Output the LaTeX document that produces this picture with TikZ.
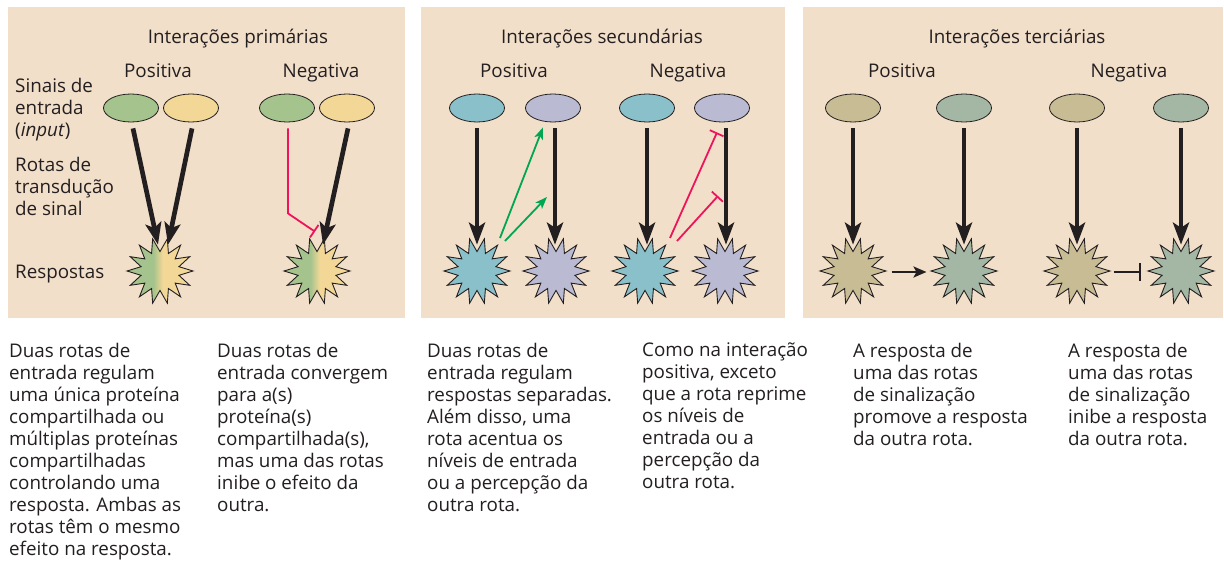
\documentclass[tikz,border=0pt]{standalone}
\usepackage{fontspec}
\setmainfont{Open Sans}
\usetikzlibrary{shapes.geometric,arrows.meta,positioning}

\definecolor{fundo}{RGB}{242,223,201}
\definecolor{texto}{RGB}{35,31,32}
\definecolor{verde}{RGB}{165,195,140}
\definecolor{amarelo}{RGB}{242,215,150}
\definecolor{ciano}{RGB}{138,192,202}
\definecolor{lilas}{RGB}{186,186,210}
\definecolor{caqui}{RGB}{200,188,148}
\definecolor{salvia}{RGB}{164,182,164}
\definecolor{promove}{RGB}{0,166,81}
\definecolor{inibe}{RGB}{237,20,91}

\pgfdeclarehorizontalshading{verdeamarelo}{100bp}{color(0bp)=(verde); color(45bp)=(verde); color(52bp)=(amarelo); color(100bp)=(amarelo)}

\tikzset{
  sinal/.style={ellipse, draw=texto, line width=0.8pt, minimum width=55pt, minimum height=28pt, inner sep=0pt},
  resposta/.style={star, star points=14, star point ratio=1.7, shape border rotate=12.857, draw=texto, line width=0.9pt, minimum size=66pt, inner sep=0pt},
  rota/.style={draw=texto, line width=4.7pt, -{Stealth[length=22pt, width=16pt, inset=5pt]}},
  acentua/.style={draw=promove, line width=1.8pt, -{Stealth[length=12pt, width=9pt, inset=3pt]}},
  reprime/.style={draw=inibe, line width=1.8pt, -{Bar[width=15pt, line width=1.8pt]}},
  liga/.style={draw=texto, line width=2.4pt},
  rotulo/.style={text=texto, font=\fontsize{18.8}{22}\selectfont, inner sep=0pt},
  legenda/.style={rotulo, align=left, anchor=north west, execute at begin node=\strut}
}

\begin{document}
\begin{tikzpicture}[x=1pt, y=-1pt]
  \useasboundingbox[fill=white] (0,0) rectangle (1224,562);

  % Painéis
  \fill[fundo] (8,7) rectangle (405,318);
  \fill[fundo] (421,7) rectangle (785,318);
  \fill[fundo] (803,7) rectangle (1223,318);

  % Títulos
  \node[rotulo, anchor=base] at (238,43) {Interações primárias};
  \node[rotulo, anchor=base] at (602,43) {Interações secundárias};
  \node[rotulo, anchor=base] at (1017,43) {Interações terciárias};
  \foreach \x/\t in {158/Positiva, 321/Negativa, 514/Positiva, 688/Negativa, 902/Positiva, 1129/Negativa}
    \node[rotulo, anchor=base] at (\x,77) {\t};

  % Rótulos da esquerda (topo = linha de base - 15.4)
  \node[legenda] at (15,77.6) {Sinais de\\entrada\\(\emph{input})};
  \node[legenda] at (15,156.6) {Rotas de\\transdução\\de sinal};
  \node[rotulo, anchor=base west] at (15,278) {Respostas};

  % Sinais de entrada
  \node[sinal, fill=verde] (e1) at (131,108) {};
  \node[sinal, fill=amarelo] (e2) at (191,108) {};
  \node[sinal, fill=verde] (e3) at (287,108) {};
  \node[sinal, fill=amarelo] (e4) at (347,108) {};
  \node[sinal, fill=ciano] (e5) at (477,108) {};
  \node[sinal, fill=lilas] (e6) at (553,108) {};
  \node[sinal, fill=ciano] (e7) at (647,108) {};
  \node[sinal, fill=lilas] (e8) at (722,108) {};
  \node[sinal, fill=caqui] (e9) at (853,108) {};
  \node[sinal, fill=salvia] (e10) at (964,108) {};
  \node[sinal, fill=caqui] (e11) at (1077,108) {};
  \node[sinal, fill=salvia] (e12) at (1181,108) {};

  % Respostas
  \node[resposta, shading=verdeamarelo] (s1) at (160,271) {};
  \node[resposta, shading=verdeamarelo] (s2) at (317,271) {};
  \node[resposta, fill=ciano] (s3) at (477,271) {};
  \node[resposta, fill=lilas] (s4) at (556,271) {};
  \node[resposta, fill=ciano] (s5) at (645,271) {};
  \node[resposta, fill=lilas] (s6) at (725,271) {};
  \node[resposta, fill=caqui] (s7) at (853,271) {};
  \node[resposta, fill=salvia] (s8) at (964,271) {};
  \node[resposta, fill=caqui] (s9) at (1077,271) {};
  \node[resposta, fill=salvia] (s10) at (1181,271) {};

  % Primárias
  \draw[rota] ([shift={(2,6)}]e1.south) -- ([shift={(-2,-6)}]s1.north);
  \draw[rota] ([shift={(1,6)}]e2.south) -- ([shift={(8,-6)}]s1.north);
  \draw[rota] ([shift={(1,6)}]e4.south) -- ([shift={(6,-6)}]s2.north);
  \draw[reprime] ([shift={(1,6)}]e3.south) -- ++(0,85) -- ([shift={(-2,-19)}]s2.north);

  % Secundárias
  \draw[rota] (e5.south |- 0,128) -- ([yshift=6pt]s3.north);
  \draw[rota] ([shift={(2,6)}]e6.south) -- ([shift={(-1,-6)}]s4.north);
  \draw[rota] ([shift={(0,6)}]e7.south) -- ([shift={(2,-6)}]s5.north);
  \draw[rota] ([shift={(4,6)}]e8.south) -- ([shift={(1,-6)}]s6.north);
  \coordinate (g2) at (547,197);
  \coordinate (r2) at (718,196);
  \draw[acentua] ([shift={(23,-33)}]s3.center) -- ([shift={(-10,5)}]e6.south);
  \draw[acentua] ([shift={(28,-30)}]s3.center) -- (g2);
  \draw[reprime] ([shift={(25,-33)}]s5.center) -- ([shift={(-5,10)}]e8.south);
  \draw[reprime] ([shift={(32,-30)}]s5.center) -- (r2);

  % Terciárias
  \foreach \e/\s in {e9/s7, e10/s8, e11/s9, e12/s10}
    \draw[rota] ([yshift=-6pt]\e.south) -- ([yshift=6pt]\s.north);
  \draw[liga, -{Stealth[length=13pt, width=11pt, inset=3pt]}] ([shift={(4,1)}]s7.east) -- ([shift={(-3,1)}]s8.west);
  \draw[liga, -{Bar[width=18pt, line width=2.4pt]}] ([shift={(2,1)}]s9.east) -- ([shift={(-5,1)}]s10.west);

  % Legendas
  \node[legenda] at (9,342.6) {Duas rotas de\\entrada regulam\\uma única proteína\\compartilhada ou\\múltiplas proteínas\\compartilhadas\\controlando uma\\resposta. Ambas as\\rotas têm o mesmo\\efeito na resposta.};
  \node[legenda] at (217,342.6) {Duas rotas de\\entrada convergem\\para a(s)\\proteína(s)\\compartilhada(s),\\mas uma das rotas\\inibe o efeito da\\outra.};
  \node[legenda] at (427,342.6) {Duas rotas de\\entrada regulam\\respostas separadas.\\Além disso, uma\\rota acentua os\\níveis de entrada\\ou a percepção da\\outra rota.};
  \node[legenda] at (642,342.6) {Como na interação\\positiva, exceto\\que a rota reprime\\os níveis de\\entrada ou a\\percepção da\\outra rota.};
  \node[legenda] at (853,342.6) {A resposta de\\uma das rotas\\de sinalização\\promove a resposta\\da outra rota.};
  \node[legenda] at (1068,342.6) {A resposta de\\uma das rotas\\de sinalização\\inibe a resposta\\da outra rota.};
\end{tikzpicture}
\end{document}
